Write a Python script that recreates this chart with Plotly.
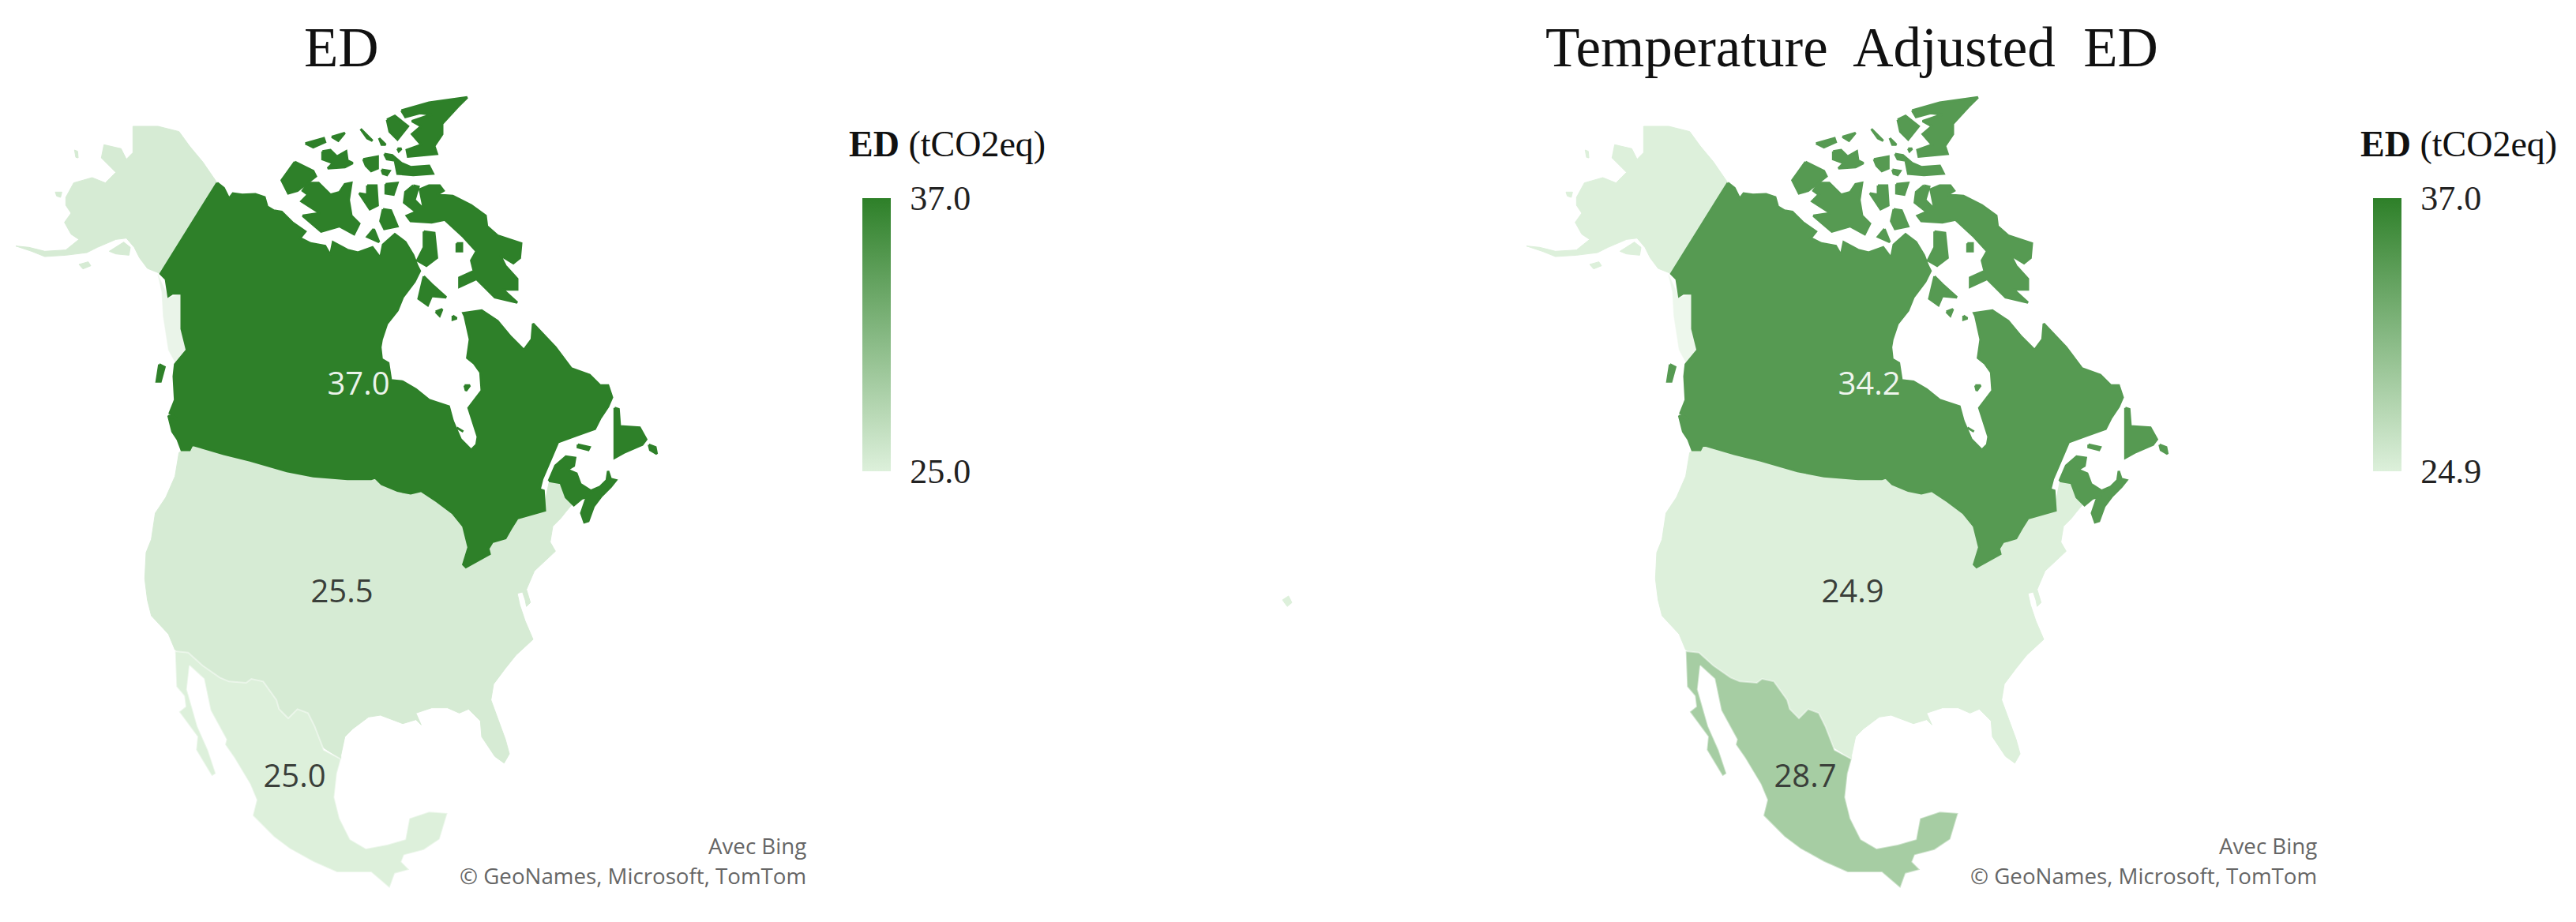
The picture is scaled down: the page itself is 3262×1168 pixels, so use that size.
import plotly.graph_objects as go

# ---------- values ----------
panel_titles = ["ED", "Temperature\u00a0 Adjusted\u00a0 ED"]
countries = ["Canada", "United States", "Mexico"]
ed_values = [37.0, 25.5, 25.0]
adjusted_values = [34.2, 24.9, 28.7]
scale_left = [25.0, 37.0]
scale_right = [24.9, 37.0]
legend_title = "<b>ED</b> (tCO2eq)"
credit_lines = ["Avec Bing", "© GeoNames, Microsoft, TomTom"]
low_rgb = (221, 240, 219)
high_rgb = (46, 128, 41)

# ---------- map outlines (tracing sheets at 3x) ----------
sheet_a = (0, 110); sheet_b = (340, 110); sheet_c = (440, 400)
sheet_d = (150, 350); sheet_e = (150, 780); sheet_f = (300, 650)

canada_main = [
 (sheet_a, [(825,365),(850,385),(870,425),(885,405),(920,410),(970,408),(1005,420),(1015,455),(1040,470),(1070,475),(1110,515),(1160,550)]),
 (sheet_b, [(120,575),(160,595),(215,605),(235,640),(245,590),(300,620),(340,630),(395,610),(425,650),(435,600),(480,560),(520,590),(550,640),(565,680),(575,700),(555,740),(510,800),(490,850),(450,900),(430,960)]),
 (sheet_c, [(125,120),(130,165),(155,180),(165,245),(210,250),(260,280),(310,320),(385,345),(400,400),(430,470),(470,510),(490,490),(495,460),(460,350),(510,285),(505,215),(480,180),(455,160),(465,90),(445,0)]),
 (sheet_b, [(740,860),(810,850),(870,890),(920,950),(970,1000),(1000,960),(1005,900)]),
 (sheet_c, [(790,120),(850,200),(920,225),(960,265),(990,265),(1005,310),(990,345),(960,390),(940,430),(870,455),(800,480),(770,550),(740,620),(730,660),(745,665),(750,740),(700,755),(645,770),(620,810),(600,845),(550,860),(535,885),(540,905),(450,955),(440,945),(460,880),(440,800),(400,750),(340,705),(280,665),(240,675),(190,665),(130,640),(105,615)]),
 (sheet_d, [(960,770),(870,770),(740,760),(640,740),(500,700),(400,675),(280,640),(270,660),(240,660),(225,620),(205,590),(190,530),(225,545),(195,520),(215,470),(210,380),(215,335),(260,280),(240,200),(240,65),(205,65)]),
 (sheet_a, [(640,795),(630,730),(610,710)]),
]
canada_islands_b = [
 [(100,285),(170,320),(180,340),(110,395),(75,405),(50,355)],
 [(150,365),(190,365),(235,410),(270,400),(290,370),(315,365),(305,430),(315,490),(345,520),(325,560),(270,530),(200,550),(165,520),(130,490),(195,480),(150,450),(125,435),(150,410),(130,395)],
 [(375,375),(410,375),(415,450),(385,465),(345,405),(375,410)],
 [(445,370),(490,365),(475,410),(445,405)],
 [(435,465),(465,470),(490,530),(440,540),(425,510)],
 [(400,540),(420,590),(375,570)],
 [(550,375),(570,380),(555,430),(590,465),(575,390),(610,375),(650,375),(665,395),(640,410),(700,415),(770,450),(825,490),(830,530),(870,565),(960,595),(955,650),(930,670),(880,640),(900,680),(945,730),(945,770),(890,770),(945,820),(860,800),(790,730),(725,760),(725,725),(780,700),(770,660),(790,625),(740,570),(670,505),(620,515),(540,510),(525,490),(560,475),(515,440),(520,400)],
 [(590,550),(630,555),(640,650),(600,680),(565,660),(590,610)],
 [(590,720),(620,750),(675,800),(620,795),(605,830),(570,805)],
 [(635,855),(660,845),(650,870)], [(700,870),(715,880),(700,885)],
 [(715,595),(735,595),(735,625),(715,625)],
 [(140,215),(210,195),(215,210),(170,230)],
 [(205,245),(235,240),(260,265),(295,245),(300,280),(320,290),(290,305),(225,310),(245,290),(205,275)],
 [(360,275),(415,265),(415,310),(390,320),(370,300)],
 [(430,315),(460,320),(450,335),(435,330)],
 [(440,255),(470,260),(505,290),(540,305),(610,300),(625,330),(550,335),(490,330),(480,280),(450,275)],
 [(450,125),(480,110),(530,150),(490,200),(460,170)],
 [(505,90),(610,60),(755,40),(720,75),(660,140),(660,180),(630,225),(640,255),(530,265),(525,240),(580,220),(545,180),(580,150),(545,130),(620,105),(575,100),(520,115)],
 [(350,160),(395,205),(375,195)], [(420,195),(445,220),(430,220)], [(240,190),(290,175),(265,205)], [(490,235),(505,235),(495,245)],
]
canada_islands_c = [
 [(1015,350),(1030,355),(1035,420),(1110,425),(1135,470),(1120,490),(1050,520),(1015,540)],
 [(1145,490),(1170,500),(1175,525),(1150,510)],
 [(875,490),(920,500),(915,510),(875,500)],
 [(445,265),(465,265),(450,285)], [(415,425),(440,440),(420,430)],
 [(765,628),(790,570),(830,535),(865,540),(860,570),(835,585),(870,600),(885,640),(925,665),(960,650),(985,625),(990,590),(1000,620),(1020,625),(1000,650),(965,685),(935,725),(915,780),(900,785),(888,750),(905,700),(925,685),(890,695),(860,720),(830,690),(810,635)],
]
canada_islands_d = [[(155,335),(175,345),(160,400),(145,400)]]

alaska = [(505,150),(600,150),(680,170),(720,225),(770,285),(825,365),(610,710),(560,690),(530,650),(510,610),(480,575),(440,580),(370,610),(330,630),(250,640),(170,645),(120,625),(60,605),(110,610),(170,625),(250,620),(300,580),(270,560),(245,515),(270,480),(250,450),(250,420),(280,365),(350,345),(400,365),(440,325),(385,270),(395,220),(460,235),(480,275),(505,250)]
alaska_isles = [[(415,625),(470,590),(495,610),(490,640),(440,635)],[(300,675),(335,665),(345,680),(315,692)],[(210,400),(235,400),(230,420),(215,415)],[(283,240),(295,245),(297,270),(288,268)]]
hawaii_sheet = (1600 - 1913, 730)
hawaii = [(72,90),(95,75),(108,100),(90,115)]
pale_coast = [(sheet_a, [(600,715),(640,800),(690,790),(690,900),(712,990)]), (sheet_d, [(260,275),(220,335),(190,280),(170,150),(165,60)])]

usa_main = [
 (sheet_d, [(280,640),(230,670),(215,760),(180,840),(140,900),(125,1000),(105,1050),(100,1150),(110,1230)]),
 (sheet_e, [(125,0),(190,70),(215,130),(845,545)]),
 (sheet_f, [(395,920),(410,850),(440,820),(500,775),(545,768),(630,800),(680,785),(700,805),(680,760),(740,740),(800,740),(845,760),(880,745),(925,790),(930,850),(980,925),(1015,950),(1035,915),(1020,860),(965,710),(975,650),(1020,590),(1060,540),(1125,480),(1095,410),(1075,350),(1065,305),(1085,300),(1095,330),(1100,355),(1115,340),(1100,290),(1130,220),(1210,145),(1190,110),(1200,50),(1230,20)]),
 (sheet_c, [(830,745),(855,715),(830,690),(810,635),(765,636),(750,710),(600,790),(500,900),(470,850),(420,700),(120,580)]),
 (sheet_d, [(270,600)]),
]
mexico_main = [(sheet_e, [(215,135),(265,140),(320,190),(385,235),(420,250),(485,255),(505,240),(550,250),(600,320),(610,355),(645,390),(680,355),(720,370),(745,420),(780,510),(845,545),(830,600),(820,690),(840,770),(880,850),(940,885),(1020,870),(1090,850),(1105,770),(1180,745),(1250,750),(1220,850),(1160,890),(1085,910),(1075,935),(1105,965),(1050,980),(1030,1035),(960,975),(880,975),(830,975),(740,935),(650,885),(590,840),(510,760),(525,700),(500,640),(440,540),(405,490),(410,470),(350,360),(325,240),(270,190),(260,280),(300,420),(340,510),(370,600),(355,610),(295,510),(300,460),(230,365),(255,345),(250,305),(220,270)])]

label_x = [454, 433, 373]
label_y = [490, 753, 987]
title_pos = [432, 432]
panel_shift = 1913


def unpack(sheet, pts):
    return [(sheet[0] + p[0] / 3, sheet[1] + p[1] / 3) for p in pts]


def chain(parts):
    out = []
    for sheet, pts in parts:
        out += unpack(sheet, pts)
    return out


def rings_xy(rings):
    xs, ys = [], []
    for ring in rings:
        xs += [p[0] for p in ring] + [ring[0][0], None]
        ys += [p[1] for p in ring] + [ring[0][1], None]
    return xs, ys


canada_rings = [chain(canada_main)]
canada_rings += [unpack(sheet_b, r) for r in canada_islands_b]
canada_rings += [unpack(sheet_c, r) for r in canada_islands_c]
canada_rings += [unpack(sheet_d, r) for r in canada_islands_d]
usa_rings = [chain(usa_main), unpack(sheet_a, alaska)] + [unpack(sheet_a, r) for r in alaska_isles] + [unpack(hawaii_sheet, hawaii)]
mexico_rings = [chain(mexico_main)]
pale_rings = [chain(pale_coast)]


def colour(v, scale):
    t = (v - scale[0]) / (scale[1] - scale[0])
    t = max(0.0, min(1.0, t))
    c = [round(low_rgb[i] + t * (high_rgb[i] - low_rgb[i])) for i in range(3)]
    return f"rgb({c[0]},{c[1]},{c[2]})"


W, H = 3262, 1168
fig = go.Figure()
colorscale = [[0, f"rgb{low_rgb}"], [1, f"rgb{high_rgb}"]]
panels = [
    dict(xa="x", ya="y", values=ed_values, scale=scale_left, bar_x=1092, title_x=1073),
    dict(xa="x2", ya="y2", values=adjusted_values, scale=scale_right, bar_x=3005, title_x=2987),
]
for pn in panels:
    fills = dict(zip(countries, [colour(v, pn["scale"]) for v in pn["values"]]))
    for name, rings, edge, opac, lw in [
        ("United States", usa_rings, None, 1, 1),
        ("United States coast", pale_rings, None, 0.5, 0.5),
        ("Mexico", mexico_rings, "rgba(255,255,255,0.45)", 1, 2),
        ("Canada", canada_rings, None, 1, 3),
    ]:
        key = name.replace(" coast", "")
        xs, ys = rings_xy(rings)
        fig.add_trace(go.Scatter(x=xs, y=ys, xaxis=pn["xa"], yaxis=pn["ya"], mode="lines", fill="toself",
                                 fillcolor=fills[key], opacity=opac, name=name, hoverinfo="name",
                                 line=dict(color=edge or fills[key], width=lw),
                                 showlegend=False))
    fig.add_trace(go.Scatter(
        x=label_x, y=label_y, xaxis=pn["xa"], yaxis=pn["ya"], mode="text",
        text=[f"{v:.1f}" for v in pn["values"]], textposition="middle center", showlegend=False, hoverinfo="skip",
        textfont=dict(family="Open Sans", size=40,
                      color=["rgba(255,255,255,0.92)" if (v - pn["scale"][0]) / (pn["scale"][1] - pn["scale"][0]) > 0.5 else "#3a3f3a" for v in pn["values"]])))
    # colour bar, driven by the panel's own scale
    fig.add_trace(go.Scatter(
        x=[-5000, -5000], y=[-5000, -5000], xaxis=pn["xa"], yaxis=pn["ya"], mode="markers", showlegend=False, hoverinfo="skip",
        marker=dict(color=pn["scale"], cmin=pn["scale"][0], cmax=pn["scale"][1], colorscale=colorscale, size=1, showscale=True,
                    colorbar=dict(x=pn["bar_x"] / W, xanchor="left", xpad=0, y=1 - 251 / H, yanchor="top", ypad=0,
                                  lenmode="pixels", len=346, thicknessmode="pixels", thickness=36, outlinewidth=0, borderwidth=0,
                                  tickmode="array", tickvals=pn["scale"], ticktext=[f"{v:.1f}" for v in pn["scale"]],
                                  ticks="outside", ticklen=16, tickcolor="rgba(0,0,0,0)",
                                  tickfont=dict(family="Liberation Serif", size=44, color="#222")))))

annotations = []
for i, (pn, ttl) in enumerate(zip(panels, panel_titles)):
    annotations.append(dict(x=title_pos[i], y=60, xref=pn["xa"], yref=pn["ya"], text=ttl, showarrow=False, xanchor="center", yanchor="middle",
                            font=dict(family="Liberation Serif", size=71, color="#111")))
    annotations.append(dict(x=pn["title_x"] / W, y=1 - 182 / H, xref="paper", yref="paper", text=legend_title, showarrow=False, xanchor="left", yanchor="middle",
                            font=dict(family="Liberation Serif", size=46, color="#111")))
    for line, yy in zip(credit_lines, [1071, 1109]):
        annotations.append(dict(x=1023, y=yy, xref=pn["xa"], yref=pn["ya"], text=line, showarrow=False, xanchor="right", yanchor="middle",
                                font=dict(family="Open Sans", size=27.7, color="#666")))

axis_off = dict(visible=False, showgrid=False, zeroline=False, fixedrange=True)
fig.update_layout(
    width=W, height=H, margin=dict(l=0, r=0, t=0, b=0), paper_bgcolor="white", plot_bgcolor="white",
    showlegend=False, annotations=annotations,
    xaxis=dict(domain=[0, 1500 / W], range=[0, 1500], **axis_off),
    yaxis=dict(domain=[0, 1], range=[H, 0], **axis_off),
    xaxis2=dict(domain=[1600 / W, 1], range=[1600 - panel_shift, W - panel_shift], anchor="y2", **axis_off),
    yaxis2=dict(domain=[0, 1], range=[H, 0], anchor="x2", **axis_off),
)
fig.write_html("out.html", config={"displayModeBar": False},
               post_script="document.body.style.margin='0';document.body.style.overflow='hidden';")
